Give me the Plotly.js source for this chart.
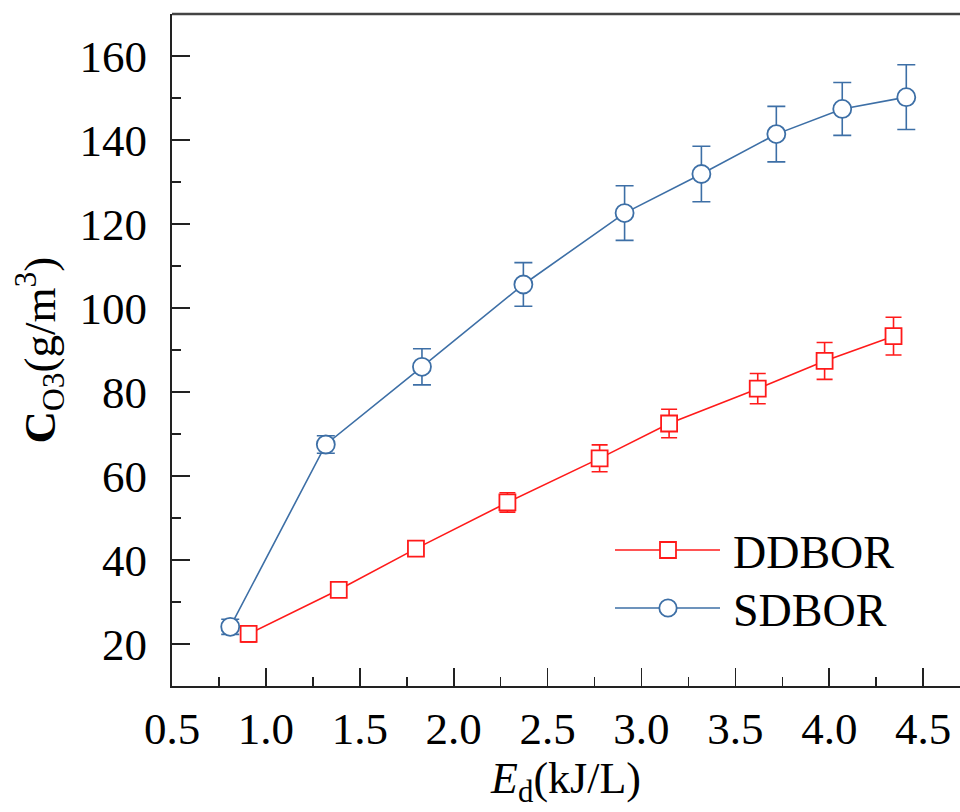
<!DOCTYPE html>
<html>
<head>
<meta charset="utf-8">
<script src="https://cdn.plot.ly/plotly-3.0.1.min.js"></script>
<style>html,body{margin:0;padding:0;background:#fff;}#chart{width:960px;height:812px;}</style>
</head>
<body>
<div id="chart"></div>
<script>
// ---- data ----
const seriesNames = ["DDBOR", "SDBOR"];
const ddborX = [0.908, 1.388, 1.799, 2.286, 2.777, 3.147, 3.619, 3.975, 4.342];
const ddborY = [22.4, 32.9, 42.7, 53.7, 64.2, 72.5, 80.8, 87.4, 93.3];
const ddborErr = [1.9, 1.5, 1.5, 2.3, 3.2, 3.4, 3.6, 4.4, 4.5];
const sdborX = [0.810, 1.319, 1.831, 2.371, 2.910, 3.319, 3.718, 4.069, 4.410];
const sdborY = [24.1, 67.5, 86.0, 105.6, 122.6, 131.9, 141.4, 147.4, 150.2];
const sdborErr = [1.8, 2.1, 4.3, 5.2, 6.5, 6.6, 6.6, 6.3, 7.7];
const xTickVals = [0.5, 1.0, 1.5, 2.0, 2.5, 3.0, 3.5, 4.0, 4.5];
const xTickText = ["0.5", "1.0", "1.5", "2.0", "2.5", "3.0", "3.5", "4.0", "4.5"];
const yTickVals = [20, 40, 60, 80, 100, 120, 140, 160];

const RED = "#ff1a1a";
const BLUE = "#3d6fa6";
const FONT = "Liberation Serif, Times New Roman, serif";

const traces = [
  {
    x: ddborX, y: ddborY, name: seriesNames[0], type: "scatter", mode: "lines+markers",
    line: {color: RED, width: 1.6},
    marker: {symbol: "square", size: 16, color: "#fff", line: {color: RED, width: 1.8}},
    error_y: {type: "data", array: ddborErr, visible: true, color: RED, thickness: 1.6, width: 8}
  },
  {
    x: sdborX, y: sdborY, name: seriesNames[1], type: "scatter", mode: "lines+markers",
    line: {color: BLUE, width: 1.6},
    marker: {symbol: "circle", size: 18, color: "#fff", line: {color: BLUE, width: 1.8}},
    error_y: {type: "data", array: sdborErr, visible: true, color: BLUE, thickness: 1.6, width: 9}
  }
];

// plot area in pixels (for manual legend placement)
const L = 172, R = 960, T = 14, B = 686;
const px = v => (v - L) / (R - L);
const py = v => (B - v) / (B - T);

const legendItems = [
  {name: seriesNames[0], color: RED, sym: "rect", y: 550},
  {name: seriesNames[1], color: BLUE, sym: "circle", y: 608}
];
const shapes = [
  {type: "line", xref: "paper", yref: "paper", x0: 0, x1: 1, y0: 1, y1: 1, line: {color: "#444", width: 2.5}}
];
const annotations = [];
legendItems.forEach(it => {
  shapes.push({type: "line", xref: "paper", yref: "paper", x0: px(615), x1: px(720), y0: py(it.y), y1: py(it.y),
    line: {color: it.color, width: 1.6}});
  const h = it.sym === "rect" ? 8 : 8.7;
  shapes.push({type: it.sym, xref: "paper", yref: "paper", x0: px(668 - h), x1: px(668 + h),
    y0: py(it.y + h), y1: py(it.y - h), fillcolor: "#fff", line: {color: it.color, width: 1.8}});
  annotations.push({xref: "paper", yref: "paper", x: px(731), y: py(it.y + 2), xanchor: "left", yanchor: "middle",
    text: it.name, showarrow: false, font: {family: FONT, size: 46, color: "#000"}});
});

const layout = {
  width: 960, height: 812,
  margin: {l: L, r: 960 - R, t: T, b: 812 - B, pad: 0},
  paper_bgcolor: "#fff", plot_bgcolor: "#fff",
  showlegend: false,
  font: {family: FONT, size: 45, color: "#000"},
  xaxis: {
    range: [0.5, 4.696], showgrid: false, zeroline: false,
    showline: true, linecolor: "#222", linewidth: 2,
    ticks: "inside", ticklen: 18, tickwidth: 1.6, tickcolor: "#222",
    tickvals: xTickVals, ticktext: xTickText,
    tickfont: {family: FONT, size: 45, color: "#000"},
    ticklabelstandoff: 2,
    minor: {dtick: 0.25, tick0: 0.5, ticks: "inside", ticklen: 9, tickwidth: 1.6, tickcolor: "#222", showgrid: false},
    title: {text: "<i>E</i><sub>d</sub>(kJ/L)", font: {family: FONT, size: 44, color: "#000"}, standoff: 6}
  },
  yaxis: {
    range: [10, 170], showgrid: false, zeroline: false,
    showline: true, linecolor: "#222", linewidth: 2,
    ticks: "inside", ticklen: 18, tickwidth: 1.6, tickcolor: "#222",
    tickvals: yTickVals,
    tickfont: {family: FONT, size: 45, color: "#000"},
    ticklabelstandoff: 14,
    minor: {dtick: 10, tick0: 10, ticks: "inside", ticklen: 9, tickwidth: 1.6, tickcolor: "#222", showgrid: false},
    title: {text: "<b>C</b><sub>O3</sub>(g/m<sup>3</sup>)", font: {family: FONT, size: 45, color: "#000"}, standoff: 10}
  },
  shapes: shapes,
  annotations: annotations
};

Plotly.newPlot("chart", traces, layout, {displayModeBar: false, staticPlot: true});
</script>
</body>
</html>
